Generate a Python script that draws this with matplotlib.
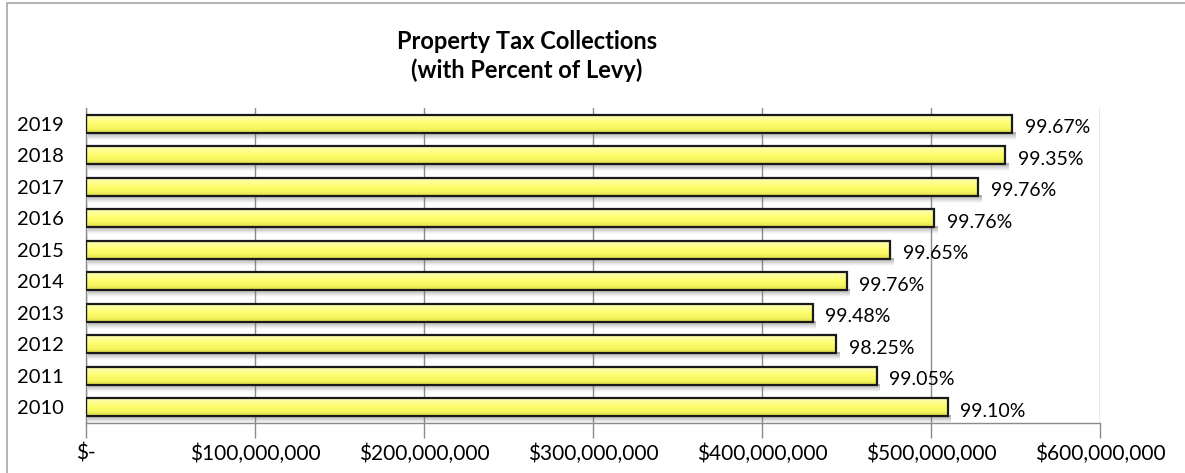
import numpy as np
import matplotlib
matplotlib.use("Agg")
import matplotlib.pyplot as plt
from matplotlib.patches import Rectangle
from matplotlib.colors import LinearSegmentedColormap
from matplotlib.ticker import FuncFormatter, MultipleLocator

years = ['2010', '2011', '2012', '2013', '2014', '2015', '2016', '2017', '2018', '2019']
collections = [510_000_000, 468_000_000, 444_000_000, 430_000_000, 450_000_000,
               476_000_000, 502_000_000, 528_000_000, 544_000_000, 548_000_000]
percent_labels = ['99.10%', '99.05%', '98.25%', '99.48%', '99.76%',
                  '99.65%', '99.76%', '99.76%', '99.35%', '99.67%']
title = "Property Tax Collections\n(with Percent of Levy)"

plt.rcParams['font.family'] = ['Lato', 'DejaVu Sans']

W, H = 1185, 473
fig = plt.figure(figsize=(W / 100, H / 100), dpi=100)
ax = fig.add_axes([86 / W, 1 - 423 / H, 1014 / W, 315 / H])

# figure border (grey frame, left and top visible)
fig.patches.append(Rectangle((7 / W, -0.05), 1.2, 1 - 3 / H + 0.05, transform=fig.transFigure,
                             fill=False, edgecolor='#a6a6a6', linewidth=1.2, zorder=0))

ypos = np.arange(len(years))
bar_h = 0.57
xmax = 600_000_000
ax.set_xlim(0, xmax)
ax.set_ylim(-0.5, 9.5)

bar_cmap = LinearSegmentedColormap.from_list(
    'barfill', [(0.0, '#dcdc48'), (0.25, '#f6f660'), (0.55, '#ffff70'), (0.8, '#fdfd98'), (1.0, '#fbfbb8')])
grad = np.linspace(0, 1, 64).reshape(-1, 1)

px_x = xmax / 1014.0
px_y = 10 / 315.0

# shadows
shadow_rgba = np.zeros((32, 1, 4))
shadow_rgba[..., :3] = 0.42
shadow_rgba[:, 0, 3] = np.linspace(0.0, 0.6, 32)
for y, v in zip(ypos, collections):
    ax.imshow(shadow_rgba, extent=(2 * px_x, v + 3 * px_x, y - bar_h / 2 - 7 * px_y, y - bar_h / 2 + 1 * px_y),
              origin='lower', aspect='auto', interpolation='bilinear', zorder=1.5)

bars = ax.barh(ypos, collections, height=bar_h, facecolor='none', edgecolor='#1a1a1a',
               linewidth=1.6, zorder=3)
for rect in bars.patches:
    x0, y0 = rect.get_x(), rect.get_y()
    w, h = rect.get_width(), rect.get_height()
    im = ax.imshow(grad, extent=(x0, x0 + w, y0, y0 + h), origin='lower', aspect='auto',
                   cmap=bar_cmap, interpolation='bilinear', zorder=2)
    im.set_clip_path(rect)

ax.set_xlim(0, xmax)
ax.set_ylim(-0.5, 9.5)

ax.xaxis.set_major_locator(MultipleLocator(100_000_000))
ax.grid(axis='x', color='#8c8c8c', linewidth=1.0, zorder=1)
ax.set_axisbelow(True)

def fmt(x, pos):
    if abs(x) < 1:
        return '$-'
    return '${:,.0f}'.format(x)

ax.xaxis.set_major_formatter(FuncFormatter(fmt))
ax.tick_params(axis='x', length=11, width=1.0, color='#8c8c8c', labelsize=15, pad=4,
               labelcolor='#000000')
ax.set_yticks(ypos)
ax.set_yticklabels(years)
ax.tick_params(axis='y', length=0, labelsize=14.5, pad=16)

for s in ['top', 'right']:
    ax.spines[s].set_visible(False)
for s in ['left', 'bottom']:
    ax.spines[s].set_color('#8c8c8c')
    ax.spines[s].set_linewidth(1.0)

for y, v, lab in zip(ypos, collections, percent_labels):
    ax.annotate(lab, xy=(v, y), xytext=(9, -3), textcoords='offset points',
                ha='left', va='center', fontsize=14, color='#000000', zorder=5)

fig.text(527 / W, 1 - 56 / H, title, ha='center', va='center', fontsize=17,
         fontweight='bold', linespacing=1.3)

fig.savefig('out.png', dpi=100)
